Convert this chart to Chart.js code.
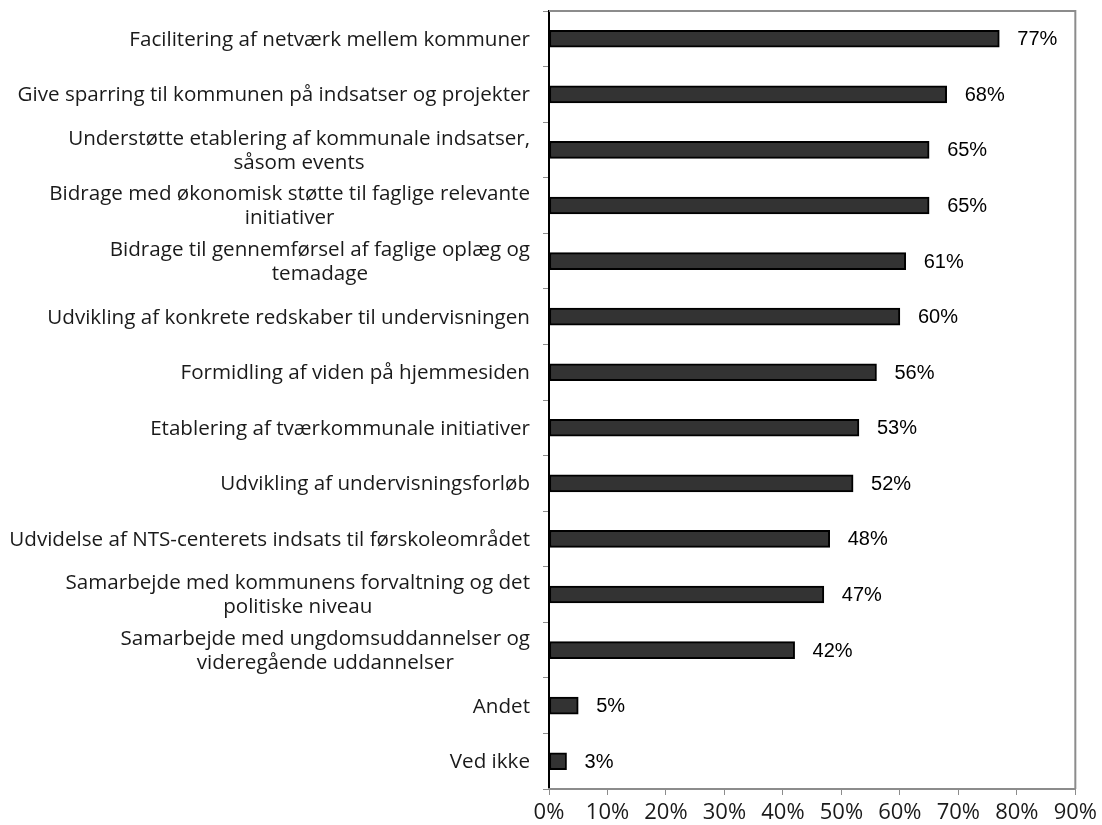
<!DOCTYPE html>
<html>
<head>
<meta charset="utf-8">
<script src="https://cdn.jsdelivr.net/npm/chart.js@4/dist/chart.umd.min.js"></script>
<style>
  html, body { margin: 0; padding: 0; background: #fff; }
  #wrap { width: 1102px; height: 825px; position: relative; }
</style>
</head>
<body>
<div id="wrap"><canvas id="c" width="1102" height="825"></canvas></div>
<script>
const categories = [
  ["Facilitering af netværk mellem kommuner"],
  ["Give sparring til kommunen på indsatser og projekter"],
  ["Understøtte etablering af kommunale indsatser,", "såsom events"],
  ["Bidrage med økonomisk støtte til faglige relevante", "initiativer"],
  ["Bidrage til gennemførsel af faglige oplæg og", "temadage"],
  ["Udvikling af konkrete redskaber til undervisningen"],
  ["Formidling af viden på hjemmesiden"],
  ["Etablering af tværkommunale initiativer"],
  ["Udvikling af undervisningsforløb"],
  ["Udvidelse af NTS-centerets indsats til førskoleområdet"],
  ["Samarbejde med kommunens forvaltning og det", "politiske niveau"],
  ["Samarbejde med ungdomsuddannelser og", "videregående uddannelser"],
  ["Andet"],
  ["Ved ikke"]
];
const values = [77, 68, 65, 65, 61, 60, 56, 53, 52, 48, 47, 42, 5, 3];
const xTicks = [0, 10, 20, 30, 40, 50, 60, 70, 80, 90];

const labelFont = "20.6px 'Open Sans'";
const valueFont = "20px 'Liberation Sans', Arial, sans-serif";

const yLabelPlugin = {
  id: 'yLabels',
  afterDraw(chart) {
    const ctx = chart.ctx;
    const ys = chart.scales.y;
    const right = chart.chartArea.left - 19;
    const lh = 24;
    ctx.save();
    ctx.font = labelFont;
    ctx.fillStyle = '#1a1a1a';
    ctx.textAlign = 'center';
    ctx.textBaseline = 'middle';
    categories.forEach((lines, i) => {
      const yc = ys.getPixelForValue(i);
      const w = Math.max(...lines.map(l => ctx.measureText(l).width));
      const cx = right - w / 2;
      const y0 = yc - (lines.length - 1) * lh / 2 + 1;
      lines.forEach((l, k) => ctx.fillText(l, cx, y0 + k * lh));
    });
    ctx.restore();
  }
};

const valuePlugin = {
  id: 'values',
  afterDatasetsDraw(chart) {
    const ctx = chart.ctx;
    const meta = chart.getDatasetMeta(0);
    ctx.save();
    ctx.font = valueFont;
    ctx.fillStyle = '#000';
    ctx.textAlign = 'left';
    ctx.textBaseline = 'middle';
    meta.data.forEach((bar, i) => {
      ctx.fillText(values[i] + '%', bar.x + 18, bar.y + 1);
    });
    ctx.restore();
  }
};

const framePlugin = {
  id: 'frame',
  beforeDatasetsDraw(chart) {
    const { ctx, chartArea: a } = chart;
    ctx.save();
    ctx.strokeStyle = '#8c8c8c';
    ctx.lineWidth = 2;
    ctx.beginPath();
    ctx.moveTo(a.left, a.top);
    ctx.lineTo(a.right, a.top);
    ctx.lineTo(a.right, a.bottom);
    ctx.stroke();
    ctx.restore();
  }
};

new Chart(document.getElementById('c'), {
  type: 'bar',
  data: {
    labels: categories,
    datasets: [{
      data: values,
      backgroundColor: '#333333',
      borderColor: '#000000',
      borderWidth: 2,
      borderSkipped: false,
      barThickness: 17
    }]
  },
  options: {
    indexAxis: 'y',
    responsive: false,
    animation: false,
    devicePixelRatio: 1,
    layout: { padding: { top: 11, right: 25, left: 0, bottom: 0 } },
    plugins: { legend: { display: false }, tooltip: { enabled: false } },
    scales: {
      y: {
        type: 'category',
        offset: true,
        ticks: { display: false },
        grid: { display: true, drawOnChartArea: false, drawTicks: true, tickLength: 6, color: '#8c8c8c', lineWidth: 1, offset: true },
        border: { display: true, color: '#000000', width: 2 },
        afterFit(scale) { scale.width = 549; }
      },
      x: {
        type: 'linear',
        min: 0,
        max: 90,
        afterBuildTicks(scale) { scale.ticks = xTicks.map(v => ({ value: v })); },
        ticks: {
          callback: v => v + '%',
          font: { family: 'Open Sans', size: 22 },
          color: '#1a1a1a',
          padding: 5,
          maxRotation: 0,
          autoSkip: false
        },
        grid: { display: true, drawOnChartArea: false, drawTicks: true, tickLength: 6, color: '#8c8c8c', lineWidth: 1 },
        border: { display: true, color: '#8c8c8c', width: 2 },
        afterFit(scale) { scale.height = 36; }
      }
    }
  },
  plugins: [framePlugin, yLabelPlugin, valuePlugin]
});
</script>
</body>
</html>
